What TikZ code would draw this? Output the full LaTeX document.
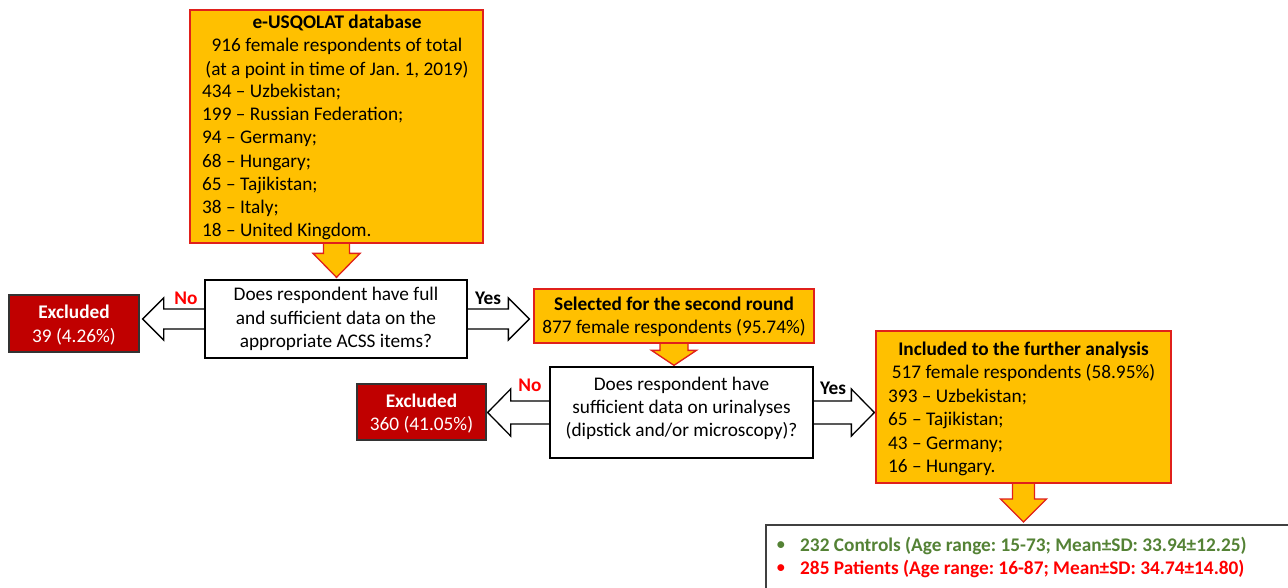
\documentclass[tikz,border=0pt]{standalone}
\usepackage{fontspec}
\setmainfont{Carlito}
\usetikzlibrary{calc}
\frenchspacing
\pgfdeclarelayer{back}
\pgfsetlayers{back,main}
\definecolor{orng}{HTML}{FFC000}
\definecolor{ored}{HTML}{E0201B}
\definecolor{exred}{HTML}{C00000}
\definecolor{cgreen}{HTML}{548235}
\definecolor{pred}{HTML}{FF0000}
\tikzset{
  txt/.style={font=\fontsize{19.3}{23.3}\selectfont, inner sep=0pt},
  lbl/.style={font=\fontsize{19.3}{23.3}\selectfont\bfseries, inner sep=0pt},
  obox/.style={draw=ored, fill=orng, line width=1.3pt, inner sep=0pt},
  dbox/.style={draw=black, fill=white, line width=1.3pt, inner sep=0pt},
  xbox/.style={draw=black!80, fill=exred, line width=1.3pt, inner sep=0pt},
  rbox/.style={draw=black!75, fill=white, line width=1.6pt, inner sep=0pt},
  oarrow/.style={draw=ored, fill=orng, line width=1.3pt, line join=miter},
  warrow/.style={draw=black, fill=white, line width=1.3pt, line join=miter},
}
% #1 source anchor, #2 tip, #3 shaft half width, #4 head half width, #5 head length
\newcommand\blkdown[5]{%
  \draw[oarrow] ($(#1)+(-#3,-6)$) -- ($(#2)+(-#3,-#5)$) -- ($(#2)+(-#4,-#5)$) -- (#2)
    -- ($(#2)+(#4,-#5)$) -- ($(#2)+(#3,-#5)$) -- ($(#1)+(#3,-6)$) -- cycle;}
% #1 left tip, #2 right tip, #3 head length, #4 head half height, #5 shaft half height
\newcommand\blkdbl[5]{%
  \draw[warrow] (#1) -- ($(#1)+(#3,-#4)$) -- ($(#1)+(#3,-#5)$) -- ($(#2)+(-#3,-#5)$)
    -- ($(#2)+(-#3,-#4)$) -- (#2) -- ($(#2)+(-#3,#4)$) -- ($(#2)+(-#3,#5)$)
    -- ($(#1)+(#3,#5)$) -- ($(#1)+(#3,#4)$) -- cycle;}
\begin{document}
\begin{tikzpicture}[x=1pt,y=-1pt]
\useasboundingbox (0,0) rectangle (1288,587);
% boxes
\node[obox, minimum width=293pt, minimum height=233pt] (db) at (336.5,126.5) {};
\node[dbox, minimum width=262pt, minimum height=78pt] (q1) at (336,319) {};
\node[xbox, minimum width=130pt, minimum height=57pt] (ex1) at (74,323.5) {};
\node[obox, minimum width=280pt, minimum height=54pt] (sel) at (674,316) {};
\node[dbox, minimum width=263pt, minimum height=91pt] (q2) at (681.5,412.5) {};
\node[xbox, minimum width=129pt, minimum height=56pt] (ex2) at (421.5,412) {};
\node[obox, minimum width=295pt, minimum height=152pt] (inc) at (1023.5,407) {};
\node[rbox, minimum width=540pt, minimum height=80pt, anchor=north west] (res) at (765,524) {};
% arrows
\begin{pgfonlayer}{back}
  \fill[white] (0,0) rectangle (1288,587);
  \coordinate (t1) at ($(db.south |- q1.north)+(0,-2)$);
  \coordinate (t2) at ($(sel.south |- q2.north)+(0,-1)$);
  \coordinate (t3) at ($(inc.south |- res.north)+(0,-2)$);
  \blkdown{db.south}{t1}{13}{23.5}{24}
  \blkdown{sel.south}{t2}{14}{22.5}{15}
  \blkdown{inc.south}{t3}{11}{23}{23}
  \coordinate (l1) at ($(ex1.east |- q1.center)+(3,0)$);
  \coordinate (r1) at ($(sel.west |- q1.center)+(-4,0)$);
  \blkdbl{l1}{r1}{21}{21}{10}
  \coordinate (l2) at ($(ex2.east |- q2.center)+(1,0)$);
  \coordinate (r2) at ($(inc.west |- q2.center)+(-1,0)$);
  \blkdbl{l2}{r2}{23}{23.5}{11.5}
\end{pgfonlayer}
% texts
\node[txt, align=center] (dbt) at (337,46.5) {\textbf{e-USQOLAT database}\\916 female respondents of total\\(at a point in time of Jan. 1, 2019)};
\node[txt, align=left, anchor=west] (dbl) at (202,162) {434 -- Uzbekistan;\\199 -- Russian Federation;\\94 -- Germany;\\68 -- Hungary;\\65 -- Tajikistan;\\38 -- Italy;\\18 -- United Kingdom.};
\node[txt, align=center] (q1t) at (q1.center) {Does respondent have full\\and sufficient data on the\\appropriate ACSS items?};
\node[txt, align=center, text=white] (ex1t) at (74,325) {\textbf{Excluded}\\39 (4.26\%)};
\node[txt, align=center] (selt) at (674,317) {\textbf{Selected for the second round}\\877 female respondents (95.74\%)};
\node[txt, align=center] (q2t) at (681.5,408.5) {Does respondent have\\sufficient data on urinalyses\\(dipstick and/or microscopy)?};
\node[txt, align=center, text=white] (ex2t) at (421.5,413.5) {\textbf{Excluded}\\360 (41.05\%)};
\node[txt, align=center] (inct) at (1023.5,362) {\textbf{Included to the further analysis}\\517 female respondents (58.95\%)};
\node[txt, align=left, anchor=west] (incl) at (888,432.5) {393 -- Uzbekistan;\\65 -- Tajikistan;\\43 -- Germany;\\16 -- Hungary.};
\node[lbl, text=pred] (no1) at (186,298) {No};
\node[lbl] (yes1) at (488,298) {Yes};
\node[lbl, text=pred] (no2) at (530,385) {No};
\node[lbl] (yes2) at (833,388) {Yes};
\node[txt, text=cgreen] (b1) at (781,546) {•};
\node[txt, text=pred] (b2) at (781,569) {•};
\node[lbl, text=cgreen, anchor=west] (c1) at (800,546) {232 Controls (Age range: 15-73; Mean±SD: 33.94±12.25)};
\node[lbl, text=pred, anchor=west] (c2) at (800,569) {285 Patients (Age range: 16-87; Mean±SD: 34.74±14.80)};
\end{tikzpicture}
\end{document}
